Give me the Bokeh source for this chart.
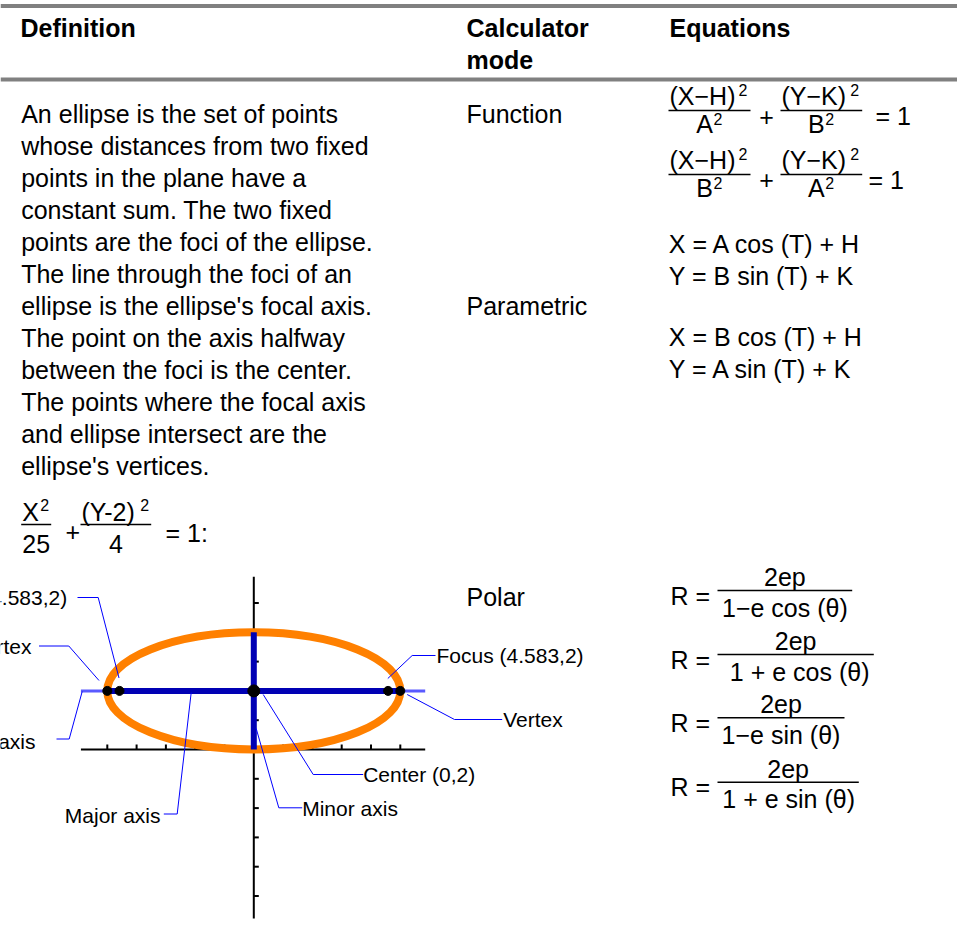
from bokeh.plotting import figure
from bokeh.models import Range1d, ColumnDataSource
from bokeh.core.properties import value
from bokeh.embed import file_html
from bokeh.resources import INLINE

# ---------------- data ----------------
header_labels = ["Definition", "Calculator", "mode", "Equations"]
definition_lines = [
    "An ellipse is the set of points",
    "whose distances from two fixed",
    "points in the plane have a",
    "constant sum. The two fixed",
    "points are the foci of the ellipse.",
    "The line through the foci of an",
    "ellipse is the ellipse's focal axis.",
    "The point on the axis halfway",
    "between the foci is the center.",
    "The points where the focal axis",
    "and ellipse intersect are the",
    "ellipse's vertices.",
]
mode_labels = ["Function", "Parametric", "Polar"]
function_numerators = ["(X\u2212H)", "(Y\u2212K)", "(X\u2212H)", "(Y\u2212K)"]
function_denominators = ["A", "B", "B", "A"]
exponent = "2"
function_rhs = ["= 1", "= 1"]
parametric_eqs = ["X = A cos (T) + H", "Y = B sin (T) + K",
                  "X = B cos (T) + H", "Y = A sin (T) + K"]
polar_lhs = ["R =", "R =", "R =", "R ="]
polar_numerators = ["2ep", "2ep", "2ep", "2ep"]
polar_denominators = ["1\u2212e cos (\u03b8)", "1 + e cos (\u03b8)",
                      "1\u2212e sin (\u03b8)", "1 + e sin (\u03b8)"]
example_numerators = ["X", "(Y-2)"]
example_denominators = ["25", "4"]
example_rhs = "= 1:"

# ellipse example  X^2/25 + (Y-2)^2/4 = 1
ell_h = 0.0
ell_k = 2.0
ell_a = 5.0
ell_b = 2.0
ell_c = 4.583
axis_x_extent = [-5.9, 5.85]
axis_y_extent = [-5.77, 5.9]
x_ticks = [-5, -4, -3, -2, -1, 1, 2, 3, 4, 5]
y_ticks = [-5, -4, -3, -2, -1, 1, 2, 3, 4, 5]
vertex_x = [-ell_a, ell_a]
focus_x = [-ell_c, ell_c]
left_labels = ["Focus (-4.583,2)", "Vertex", "Focal axis", "Major axis"]
right_labels = ["Focus (4.583,2)", "Vertex", "Center (0,2)", "Minor axis"]

# ---------------- layout (page pixels) ----------------
FONT = value("Liberation Sans")
W, H = 957, 932
p = figure(width=W, height=H, x_range=Range1d(0, W), y_range=Range1d(H, 0),
           output_backend="svg", toolbar_location=None, min_border=0,
           x_axis_location=None, y_axis_location=None, outline_line_color=None,
           background_fill_color="white", border_fill_color="white")
p.grid.visible = False

# diagram scale: page pixel (253.3, 749) is (0, 0); 29.3 px per unit
CX, CY, S = 253.3, 749.0, 29.3
p.extra_x_ranges = {"ex": Range1d((0 - CX) / S, (W - CX) / S)}
p.extra_y_ranges = {"ey": Range1d((CY - H) / S, (CY - 0) / S)}
E = dict(x_range_name="ex", y_range_name="ey")


def texts(items, size="25px", align="left", style="normal", color="black"):
    src = ColumnDataSource(dict(x=[i[0] for i in items], y=[i[1] for i in items],
                                t=[i[2] for i in items]))
    p.text(x="x", y="y", text="t", source=src, text_font=FONT, text_font_size=size,
           text_align=align, text_baseline="middle", text_font_style=style,
           text_color=color)


def bars(items, width=1.6):
    p.segment(x0=[b[0] for b in items], x1=[b[1] for b in items],
              y0=[b[2] for b in items], y1=[b[2] for b in items],
              line_color="black", line_width=width)


SUP = "16px"

# table rules
p.segment(x0=[0, 0], x1=[W, W], y0=[5.5, 79], y1=[5.5, 79],
          line_color="#808080", line_width=4)

# header
header_pos = [(20, 27), (466, 27), (466, 59), (669, 27)]
texts([(x, y, t) for (x, y), t in zip(header_pos, header_labels)], style="bold")

# definition text
texts([(20.7, 113.3 + 32 * i, t) for i, t in enumerate(definition_lines)])

# calculator mode
mode_y = [113.3, 305.7, 596]
texts([(466, y, t) for y, t in zip(mode_y, mode_labels)])

# function equations
f_bar_y = [110, 110, 174, 174]
f_bar_x = [(668, 750), (780, 861.7), (668, 750), (780, 861.7)]
bars([(x0, x1, y) for (x0, x1), y in zip(f_bar_x, f_bar_y)])
texts([(x0 + 1, y - 15, t) for (x0, x1), y, t in zip(f_bar_x, f_bar_y, function_numerators)])
texts([(x1 - 12, y - 21, exponent) for (x0, x1), y in zip(f_bar_x, f_bar_y)], size=SUP)
texts([((x0 + x1) / 2 - 5, y + 13.3, t) for (x0, x1), y, t in zip(f_bar_x, f_bar_y, function_denominators)], align="center")
texts([((x0 + x1) / 2 + 4, y + 8, exponent) for (x0, x1), y in zip(f_bar_x, f_bar_y)], size=SUP)
texts([(766, 116, "+"), (766, 179, "+")], align="center")
texts([(875, 115, function_rhs[0]), (868, 179, function_rhs[1])])

# parametric equations
param_y = [243.3, 275, 336.7, 368.3]
texts([(668.3, y, t) for y, t in zip(param_y, parametric_eqs)])

# polar equations
pol_bar_y = [590, 654, 717.3, 781.7]
pol_bar_x1 = [851.7, 873.3, 844, 858.3]
bars([(717, x1, y) for x1, y in zip(pol_bar_x1, pol_bar_y)])
texts([(670, y + 5, t) for y, t in zip(pol_bar_y, polar_lhs)])
texts([((717 + x1) / 2, y - 13.5, t) for x1, y, t in zip(pol_bar_x1, pol_bar_y, polar_numerators)], align="center")
pol_den_dx = [0, 4, 0, 0.5]
texts([((717 + x1) / 2 + dx, y + 17, t) for x1, y, dx, t in zip(pol_bar_x1, pol_bar_y, pol_den_dx, polar_denominators)], align="center")

# example equation
ex_bar_x = [(20.7, 50.7), (80, 150.7)]
bars([(x0, x1, 524) for x0, x1 in ex_bar_x])
texts([(x0 + 1, 511, t) for (x0, x1), t in zip(ex_bar_x, example_numerators)])
texts([(x1 - 11, 504, exponent) for (x0, x1) in ex_bar_x], size=SUP)
texts([((x0 + x1) / 2, 543.3, t) for (x0, x1), t in zip(ex_bar_x, example_denominators)], align="center")
texts([(65, 531.7, "+"), (165, 532, example_rhs)])

# ---------------- ellipse diagram ----------------
TICK = 5.0 / S
p.segment(x0=[axis_x_extent[0]], x1=[axis_x_extent[1]], y0=[0], y1=[0],
          line_color="black", line_width=2, **E)
p.segment(x0=[0], x1=[0], y0=[axis_y_extent[0]], y1=[axis_y_extent[1]],
          line_color="black", line_width=2, **E)
p.segment(x0=x_ticks, x1=x_ticks, y0=[0] * len(x_ticks), y1=[TICK] * len(x_ticks),
          line_color="black", line_width=2, **E)
p.segment(x0=[0] * len(y_ticks), x1=[TICK] * len(y_ticks), y0=y_ticks, y1=y_ticks,
          line_color="black", line_width=2, **E)

p.ellipse(x=[ell_h], y=[ell_k], width=[2 * ell_a], height=[2 * ell_b],
          fill_color=None, line_color="#ff8000", line_width=8, **E)

# focal axis (thin), major axis and minor axis (thick)
p.segment(x0=[axis_x_extent[0]], x1=[axis_x_extent[1]], y0=[ell_k], y1=[ell_k],
          line_color="#5a5aff", line_width=3, **E)
p.segment(x0=[ell_h - ell_a], x1=[ell_h + ell_a], y0=[ell_k], y1=[ell_k],
          line_color="#0000b4", line_width=6, **E)
p.segment(x0=[ell_h], x1=[ell_h], y0=[ell_k - ell_b], y1=[ell_k + ell_b],
          line_color="#0000b4", line_width=6, **E)

p.scatter(x=vertex_x + focus_x, y=[ell_k] * 4, size=9, color="black", **E)
p.scatter(x=[ell_h], y=[ell_k], size=12, color="black", **E)

# leader lines (page pixels)
leaders = [
    [(77, 597), (97.7, 597), (118.5, 677.5)],
    [(38.5, 645.5), (68.3, 645.5), (98.5, 680)],
    [(56, 738.5), (68.7, 738.5), (81.7, 691)],
    [(163.3, 813.5), (176.7, 813.5), (190.7, 692)],
    [(435, 655), (411.7, 655), (387.3, 678)],
    [(501.7, 719), (454, 719), (406.7, 694)],
    [(362.7, 774), (312.7, 774), (262.7, 694)],
    [(301.7, 807.3), (278.3, 807.3), (255.7, 728)],
]
p.multi_line(xs=[[q[0] for q in l] for l in leaders], ys=[[q[1] for q in l] for l in leaders],
             line_color="#0000ff", line_width=1)

left_pos = [(66.7, 597), (31, 646), (35, 741), (160, 815)]
right_pos = [(436, 655), (502.7, 719), (362.7, 773.5), (301.7, 807.5)]
texts([(x, y, t) for (x, y), t in zip(left_pos, left_labels)], size="21px", align="right")
texts([(x, y, t) for (x, y), t in zip(right_pos, right_labels)], size="21px", align="left")

open("out.html", "w").write(file_html(p, INLINE))
